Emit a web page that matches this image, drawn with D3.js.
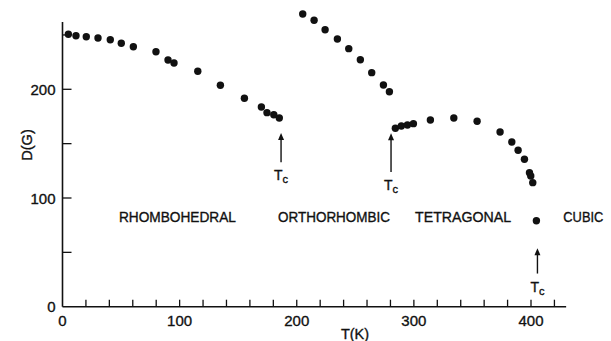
<!DOCTYPE html>
<html><head><meta charset="utf-8">
<script src="https://cdn.jsdelivr.net/npm/d3@7"></script>
<style>body{margin:0;background:#fff}svg{display:block}text{font-family:"Liberation Sans",Arial,sans-serif;fill:#111;stroke:#111;stroke-width:0.35}</style>
</head><body><svg id="c" width="611" height="341"></svg>
<script>
// Data
const rhombT = [5,11.5,20.3,30.3,40.8,50.2,60.5,79.8,90.1,95.2,115.5,134.8,155.3,169.8,174.6,180.4,185.1];
const rhombD = [250.6,249.3,248.4,247.2,245.6,242.3,239.2,234.6,227,224.2,216.6,203.7,191.7,183.7,178.5,176.6,173.6];
const orthoT = [205.1,214.8,224.2,234.7,244.4,254.3,264,274,279.1];
const orthoD = [269.3,263.5,254.8,246.3,237.4,227.2,215.3,204,197.8];
const tetraT = [284.2,289.3,294.5,299.6,314.1,334.1,354,373.6,383.6,389,394.4,398.7,399.8,401.5];
const tetraD = [164.1,166.2,167.2,168.4,171.8,173.6,170.6,160.7,151.5,143.9,135.6,123.3,120.2,114.1];
const cubicT = [404.6];
const cubicD = [79.1];
const phaseLabels = ["RHOMBOHEDRAL","ORTHORHOMBIC","TETRAGONAL","CUBIC"];
const phaseLabelT = [48.2,184,301,427.6];
const tcT = [186.6,280.5,405.5];
const tcArrowTop = [159.8,159.5,53.7];
const tcArrowBottom = [133,124,30.5];
const xTickLabels = [0,100,200,300,400];
const yTickLabels = [0,100,200];

const svg = d3.select("#c");
const x = d3.scaleLinear().domain([0,400]).range([62.5,531]);
const y = d3.scaleLinear().domain([0,100]).range([306.7,198.0]);
const ink = "#111";

// axes lines
svg.append("line").attr("x1",x(0)).attr("x2",x(430)).attr("y1",y(0)).attr("y2",y(0)).attr("stroke",ink).attr("stroke-width",1.6);
svg.append("line").attr("x1",x(0)).attr("x2",x(0)).attr("y1",y(0)).attr("y2",y(262)).attr("stroke",ink).attr("stroke-width",1.6);
// x ticks (inward)
svg.selectAll(".xt").data(d3.range(20,421,20)).join("line")
  .attr("x1",d=>x(d)).attr("x2",d=>x(d)).attr("y1",y(0)).attr("y2",y(0)-7)
  .attr("stroke",ink).attr("stroke-width",1.3);
// y ticks (inward)
svg.selectAll(".yt").data(d3.range(50,251,50)).join("line")
  .attr("x1",x(0)).attr("x2",x(0)+9).attr("y1",d=>y(d)).attr("y2",d=>y(d))
  .attr("stroke",ink).attr("stroke-width",1.3);
// tick labels
svg.selectAll(".xl").data(xTickLabels).join("text")
  .attr("x",d=>x(d)).attr("y",y(0)+19).attr("text-anchor","middle")
  .attr("font-size",15).text(d=>d);
svg.selectAll(".yl").data(yTickLabels).join("text")
  .attr("x",x(0)-7).attr("y",d=>y(d)+5.5).attr("text-anchor","end")
  .attr("font-size",15).text(d=>d);
// axis titles
svg.append("text").attr("x",355).attr("y",339).attr("text-anchor","middle").attr("font-size",14.5).text("T(K)");
svg.append("text").attr("transform","translate(32,145) rotate(-90)").attr("text-anchor","middle").attr("font-size",14.5).text("D(G)");

// points
const all = [[rhombT,rhombD],[orthoT,orthoD],[tetraT,tetraD],[cubicT,cubicD]];
all.forEach(([ts,ds])=>{
  svg.append("g").selectAll("circle").data(ts.map((t,i)=>[t,ds[i]])).join("circle")
    .attr("cx",d=>x(d[0])).attr("cy",d=>y(d[1])).attr("r",3.7).attr("fill",ink);
});

// phase labels
const phaseWidths = [117,112,96,40];
svg.selectAll(".pl").data(phaseLabels).join("text")
  .attr("x",(d,i)=>x(phaseLabelT[i])).attr("y",222)
  .attr("font-size",14).attr("textLength",(d,i)=>phaseWidths[i]).attr("lengthAdjust","spacingAndGlyphs")
  .text(d=>d);

// Tc arrows
tcT.forEach((t,i)=>{
  const xa = x(t), yt = y(tcArrowTop[i]), yb = y(tcArrowBottom[i]);
  svg.append("line").attr("x1",xa).attr("x2",xa).attr("y1",yt+4).attr("y2",yb).attr("stroke",ink).attr("stroke-width",1.4);
  svg.append("path").attr("d",`M${xa},${yt} L${xa-3},${yt+7} L${xa+3},${yt+7} Z`).attr("fill",ink);
  const tx = svg.append("text").attr("x",xa-7).attr("y",yb+18).attr("font-size",14);
  tx.append("tspan").text("T");
  tx.append("tspan").attr("dy",3).attr("font-size",11).text("c");
});
</script></body></html>
